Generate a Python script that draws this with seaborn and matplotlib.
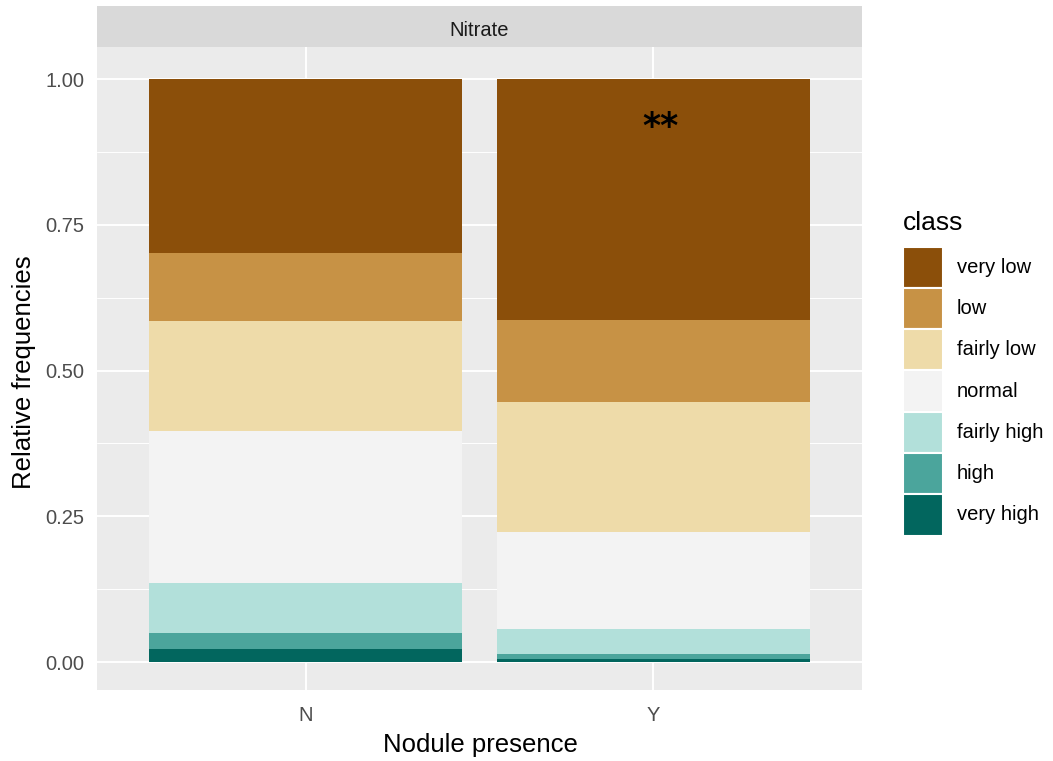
import numpy as np
import pandas as pd
import matplotlib
matplotlib.use("Agg")
import matplotlib.pyplot as plt
import seaborn as sns
from matplotlib.patches import Rectangle

# ---- data ----
groups = ["N", "Y"]
classes = ["very low", "low", "fairly low", "normal", "fairly high", "high", "very high"]
freq_N = [0.298, 0.117, 0.189, 0.260, 0.086, 0.028, 0.022]
freq_Y = [0.413, 0.141, 0.223, 0.166, 0.044, 0.0075, 0.0057]
colors = ["#8B4F0A", "#C79245", "#EEDBA9", "#F3F3F3", "#B2E0DA", "#4BA59C", "#02665E"]
annotation = "**"

df = pd.DataFrame({
    "presence": np.repeat(groups, len(classes)),
    "class": classes * len(groups),
    "freq": freq_N + freq_Y,
})
df["presence"] = pd.Categorical(df["presence"], categories=groups)

sns.set_theme(style="darkgrid")
plt.rcParams["font.family"] = ["Liberation Sans", "DejaVu Sans"]

W, H = 1053, 761
fig = plt.figure(figsize=(W / 100, H / 100), dpi=100)
fig.patch.set_facecolor("white")
ax = fig.add_axes([97 / W, (H - 690) / H, 765 / W, 643 / H])
ax.set_facecolor("#EBEBEB")

sns.histplot(data=df, x="presence", weights="freq", hue="class", hue_order=classes,
             palette=colors, multiple="stack", discrete=True, shrink=0.9,
             alpha=1, linewidth=0, edgecolor="none", legend=False, ax=ax)

ax.set_xlim(-0.6, 1.6)
ax.set_ylim(-0.048, 1.0549)
ax.set_yticks([0, 0.25, 0.5, 0.75, 1.0])
ax.set_yticklabels(["0.00", "0.25", "0.50", "0.75", "1.00"])
ax.set_yticks([0.125, 0.375, 0.625, 0.875], minor=True)
ax.set_xticks([0, 1])
ax.set_xticklabels(groups)
ax.grid(which="major", color="white", linewidth=1.4)
ax.grid(which="minor", axis="y", color="white", linewidth=0.7)
ax.set_axisbelow(True)
for s in ax.spines.values():
    s.set_visible(False)
ax.tick_params(axis="both", which="major", length=5, width=1, color="#333333",
               labelcolor="#4D4D4D", labelsize=14.5, direction="out", pad=4)
ax.tick_params(axis="x", which="major", pad=6.5)
ax.tick_params(axis="both", which="minor", length=0)

xl = ax.set_xlabel("Nodule presence", fontsize=18.5, color="black")
xl.set_va("center"); xl.set_ha("center")
ax.xaxis.set_label_coords(0.5007, (690 - 745) / 643)
yl = ax.set_ylabel("Relative frequencies", fontsize=18.5, color="black")
yl.set_va("center"); yl.set_ha("center"); yl.set_rotation_mode("default")
ax.yaxis.set_label_coords((24 - 97) / 765, (690 - 372) / 643)

ax.text(1.02, 0.90, annotation, ha="center", va="baseline", fontsize=25,
        fontweight="bold", color="black", family="DejaVu Sans")

# facet strip
sax = fig.add_axes([97 / W, (H - 47) / H, 765 / W, 41 / H])
sax.set_facecolor("#D9D9D9")
sax.set_xticks([]); sax.set_yticks([])
for s in sax.spines.values():
    s.set_visible(False)
sax.text(0.5, 0.40, "Nitrate", ha="center", va="center", fontsize=14.5, color="#1A1A1A",
         transform=sax.transAxes)

# legend (drawn manually, ggplot style)
fig.text(903 / W, 1 - 230 / H, "class", fontsize=19, color="black",
         ha="left", va="baseline")
key_top, key_h, key_w = 246.5, 41.3, 40
for i, (c, lab) in enumerate(zip(colors, classes)):
    top = key_top + i * key_h
    fig.patches.append(Rectangle((903 / W, 1 - (top + key_h) / H), key_w / W, key_h / H,
                                 transform=fig.transFigure, facecolor=c,
                                 edgecolor="white", linewidth=1.5, figure=fig))
    fig.text(957 / W, 1 - (top + key_h / 2) / H, lab, fontsize=14.5, color="black",
             ha="left", va="center")

fig.savefig("out.png", dpi=100, facecolor="white")
